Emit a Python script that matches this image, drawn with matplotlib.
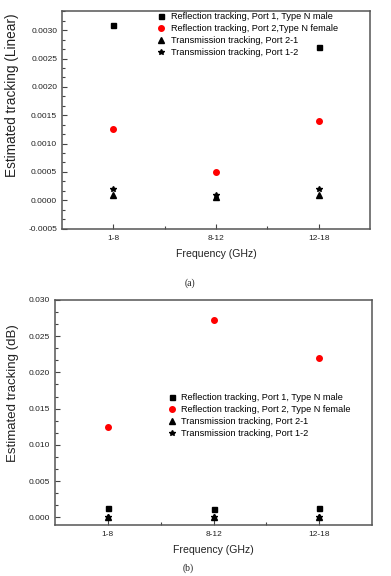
import matplotlib
matplotlib.use('Agg')
import matplotlib.pyplot as plt
from matplotlib.ticker import AutoMinorLocator, FixedLocator
import numpy as np

plt.rcParams['font.family'] = ['Liberation Sans', 'DejaVu Sans']

# frequency bands
bands = ["1-8", "8-12", "12-18"]

# (a) estimated tracking, linear
refl_p1_lin = [0.0031, np.nan, 0.0027]
refl_p2_lin = [0.00125, 0.0005, 0.0014]
trans_21_lin = [0.0001, 0.00005, 0.0001]
trans_12_lin = [0.0002, 0.0001, 0.0002]

# (b) estimated tracking, dB
refl_p1_db = [0.0013, 0.0012, 0.0013]
refl_p2_db = [0.0125, 0.0273, 0.0220]
trans_21_db = [0.0001, 0.0001, 0.0001]
trans_12_db = [0.0001, 0.0001, 0.0001]

labels_a = ["Reflection tracking, Port 1, Type N male",
            "Reflection tracking, Port 2,Type N female",
            "Transmission tracking, Port 2-1",
            "Transmission tracking, Port 1-2"]
labels_b = ["Reflection tracking, Port 1, Type N male",
            "Reflection tracking, Port 2, Type N female",
            "Transmission tracking, Port 2-1",
            "Transmission tracking, Port 1-2"]

W, H = 391, 576
fig = plt.figure(figsize=(W / 100, H / 100), dpi=100)

ax1 = fig.add_axes([62 / W, 1 - 228.5 / H, 308 / W, 217.5 / H])
ax2 = fig.add_axes([55 / W, 1 - 524.5 / H, 317 / W, 224.5 / H])

x = np.arange(1, len(bands) + 1)


def draw(ax, series, labels):
    # marker, colour, size, zorder
    styles = [('s', 'black', 3.6, 3), ('o', 'red', 4.0, 3),
              ('^', 'black', 4.2, 3), ('*', 'black', 4.0, 2.5)]
    for vals, lab, (m, c, ms, z) in zip(series, labels, styles):
        ax.plot(x, vals, linestyle='none', marker=m, color=c,
                markersize=ms, label=lab, zorder=z)
    ax.set_xlim(0.5, 3.5)
    ax.set_xticks(x)
    ax.set_xticklabels(bands)
    ax.xaxis.set_minor_locator(FixedLocator([1.5, 2.5]))
    ax.yaxis.set_minor_locator(AutoMinorLocator(3))
    ax.tick_params(which='both', direction='in', colors='#444444',
                   labelcolor='#222222', labelsize=6)
    ax.tick_params(which='major', length=3.5, width=0.8)
    ax.tick_params(which='minor', length=2, width=0.8)
    ax.tick_params(axis='x', pad=5)
    for s in ax.spines.values():
        s.set_color('#555555')
        s.set_linewidth(1.1)
    ax.set_xlabel('Frequency (GHz)', fontsize=7.6, color='#222222', labelpad=5)


draw(ax1, [refl_p1_lin, refl_p2_lin, trans_21_lin, trans_12_lin], labels_a)
ax1.set_ylim(-0.0005, 0.00334)
ax1.set_yticks(np.arange(-0.0005, 0.0031, 0.0005))
ax1.yaxis.set_major_formatter(plt.FormatStrFormatter('%.4f'))
ax1.set_ylabel('Estimated tracking (Linear)', fontsize=9.8, color='#222222')
ax1.yaxis.set_label_coords(-43 / 308, 0.614)
ax1.legend(loc='upper left', bbox_to_anchor=(0.293, 1.012), frameon=False,
           fontsize=6.6, handletextpad=0.4, labelspacing=0.34,
           handlelength=1.2, borderaxespad=0)

draw(ax2, [refl_p1_db, refl_p2_db, trans_21_db, trans_12_db], labels_b)
ax2.set_ylim(-0.001, 0.030)
ax2.set_yticks(np.arange(0.0, 0.0301, 0.005))
ax2.yaxis.set_major_formatter(plt.FormatStrFormatter('%.3f'))
ax2.set_ylabel('Estimated tracking (dB)', fontsize=9.5, color='#222222')
ax2.yaxis.set_label_coords(-36 / 317, 0.586)
ax2.legend(loc='upper left', bbox_to_anchor=(0.3405, 0.602), frameon=False,
           fontsize=6.6, handletextpad=0.4, labelspacing=0.32,
           handlelength=1.2, borderaxespad=0)

fig.text(190 / W, 1 - 283 / H, '(a)', ha='center', va='center',
         fontsize=7, family='Liberation Serif', color='#222222')
fig.text(188 / W, 1 - 568 / H, '(b)', ha='center', va='center',
         fontsize=7, family='Liberation Serif', color='#222222')

fig.savefig('out.png', dpi=100)
